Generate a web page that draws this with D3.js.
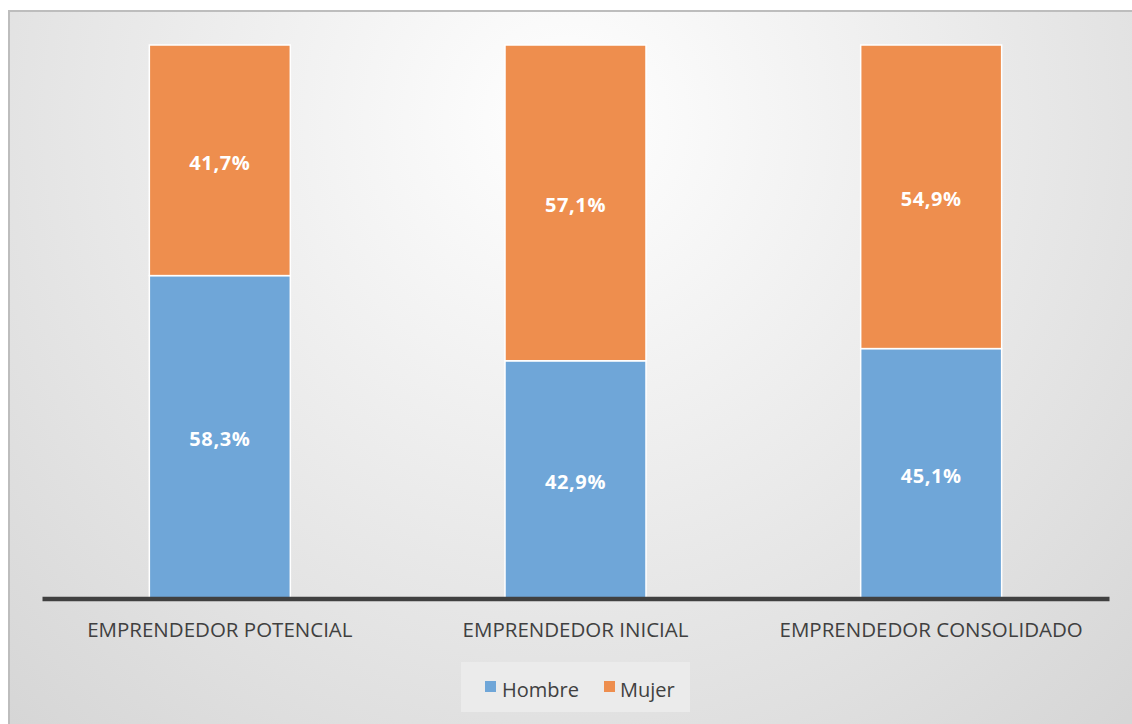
<!DOCTYPE html>
<html><head><meta charset="utf-8">
<script src="https://cdn.jsdelivr.net/npm/d3@7"></script>
<style>html,body{margin:0;padding:0;background:#fff;}svg{display:block;}</style>
</head><body>
<svg id="c" width="1132" height="724"></svg>
<script>
const categories = ["EMPRENDEDOR POTENCIAL", "EMPRENDEDOR INICIAL", "EMPRENDEDOR CONSOLIDADO"];
const seriesNames = ["Hombre", "Mujer"];
const hombre = [58.3, 42.9, 45.1];
const mujer = [41.7, 57.1, 54.9];
const colors = {Hombre: "#6FA6D8", Mujer: "#EE8E4E"};

const svg = d3.select("#c");
const defs = svg.append("defs");
const rg = defs.append("radialGradient").attr("id","bg")
  .attr("gradientUnits","userSpaceOnUse").attr("cx",566).attr("cy",120).attr("r",820);
rg.append("stop").attr("offset","0").attr("stop-color","#ffffff");
rg.append("stop").attr("offset","1").attr("stop-color","#d6d6d6");

svg.append("rect").attr("x",9).attr("y",11).attr("width",1130).attr("height",720)
  .attr("fill","url(#bg)").attr("stroke","#bdbdbd").attr("stroke-width",2);

const x = d3.scaleBand().domain(categories).range([42,1109]).paddingInner(0.6036).paddingOuter(0.3018);
const y = d3.scaleLinear().domain([0,100]).range([598,45]);

const data = categories.map((c,i)=>({cat:c, Hombre:hombre[i], Mujer:mujer[i]}));
const stack = d3.stack().keys(seriesNames)(data);

const g = svg.append("g");
stack.forEach(s=>{
  g.selectAll(null).data(s).enter().append("rect")
    .attr("x",d=>x(d.data.cat))
    .attr("width",x.bandwidth())
    .attr("y",d=>y(d[1]))
    .attr("height",d=>y(d[0])-y(d[1]))
    .attr("fill",colors[s.key])
    .attr("stroke","#ffffff").attr("stroke-width",1.5);
  g.selectAll(null).data(s).enter().append("text")
    .attr("x",d=>x(d.data.cat)+x.bandwidth()/2)
    .attr("y",d=>(y(d[0])+y(d[1]))/2+4)
    .attr("text-anchor","middle").attr("dominant-baseline","middle")
    .attr("fill","#ffffff").attr("font-family","'Open Sans', sans-serif")
    .attr("font-weight","bold").attr("font-size","20px").attr("letter-spacing","0.6px")
    .text(d=>d3.format(".1f")(d[1]-d[0]).replace(".",",")+"%");
});

// axis
const ax = svg.append("g").attr("transform","translate(0,598.5)")
  .call(d3.axisBottom(x).tickSize(0).tickPadding(34));
ax.select(".domain").attr("stroke","#404040").attr("stroke-width",4.5);
ax.selectAll("text").attr("fill","#404040").attr("font-family","'Open Sans', sans-serif")
  .attr("font-size","20.5px").attr("dy","0.2em");

// legend
const lg = svg.append("g");
lg.append("rect").attr("x",461).attr("y",662).attr("width",229).attr("height",50).attr("fill","#ebebeb");
const items = [{k:"Hombre",sx:485,tx:502},{k:"Mujer",sx:604,tx:620}];
items.forEach(it=>{
  lg.append("rect").attr("x",it.sx).attr("y",681).attr("width",11).attr("height",11).attr("fill",colors[it.k]);
  lg.append("text").attr("x",it.tx).attr("y",697).attr("fill","#404040")
    .attr("font-family","'Open Sans', sans-serif").attr("font-size","20px").text(it.k);
});
</script>
</body></html>
